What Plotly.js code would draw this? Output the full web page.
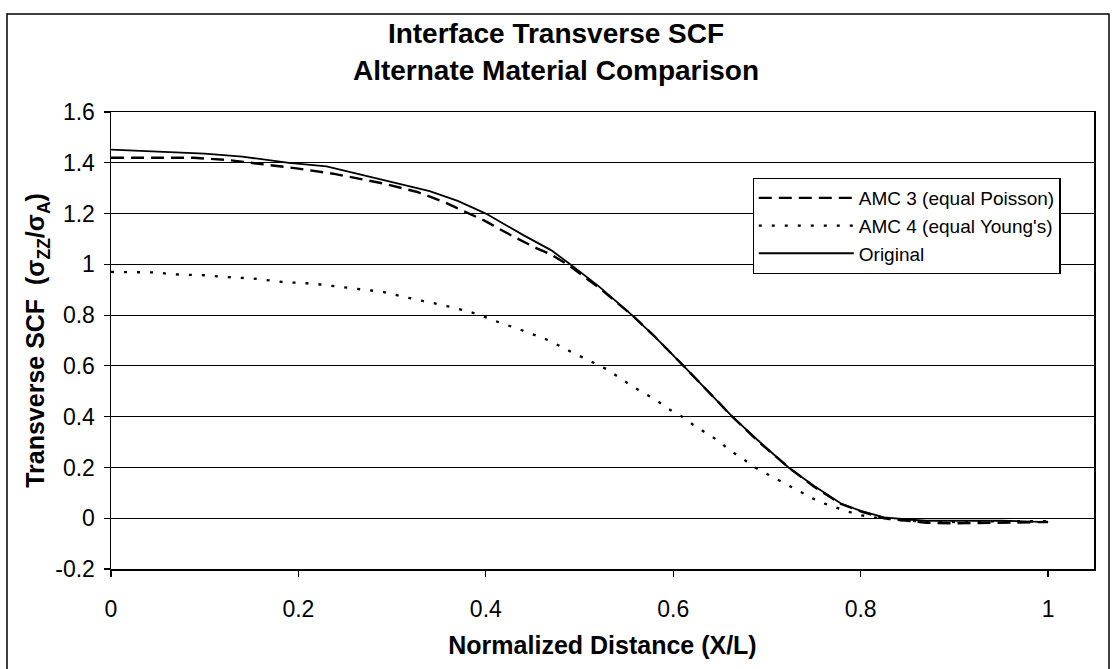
<!DOCTYPE html>
<html>
<head>
<meta charset="utf-8">
<script src="https://cdn.plot.ly/plotly-3.0.1.min.js"></script>
<style>html,body{margin:0;padding:0;background:#fff;}#chart{width:1112px;height:669px;}</style>
</head>
<body>
<div id="chart"></div>
<script>
// Series: Original (solid)
const origX = [0, 0.05, 0.10, 0.14, 0.16, 0.19, 0.23, 0.27, 0.31, 0.34, 0.37, 0.40, 0.44, 0.47, 0.49, 0.52, 0.556, 0.58, 0.611, 0.64, 0.663, 0.69, 0.723, 0.75, 0.779, 0.80, 0.825, 0.85, 0.87, 0.90, 0.95, 1.0];
const origY = [1.452, 1.443, 1.436, 1.424, 1.414, 1.400, 1.386, 1.350, 1.315, 1.288, 1.250, 1.200, 1.115, 1.055, 1.000, 0.915, 0.800, 0.716, 0.600, 0.490, 0.400, 0.308, 0.200, 0.128, 0.058, 0.029, 0.003, -0.005, -0.010, -0.010, -0.010, -0.015];
// Series: AMC 3 (equal Poisson) (dashed)
const amc3X = [0, 0.088, 0.127, 0.156, 0.20, 0.237, 0.291, 0.327, 0.355, 0.398, 0.43, 0.455, 0.469, 0.487, 0.52, 0.556, 0.58, 0.611, 0.64, 0.663, 0.69, 0.723, 0.75, 0.779, 0.80, 0.825, 0.85, 0.87, 0.90, 0.95, 1.0];
const amc3Y = [1.420, 1.420, 1.410, 1.397, 1.377, 1.357, 1.318, 1.285, 1.246, 1.173, 1.108, 1.062, 1.040, 1.000, 0.910, 0.800, 0.716, 0.600, 0.488, 0.400, 0.305, 0.200, 0.125, 0.056, 0.027, 0.000, -0.010, -0.018, -0.020, -0.018, -0.015];
// Series: AMC 4 (equal Young's) (dotted)
const amc4X = [0, 0.05, 0.063, 0.10, 0.124, 0.152, 0.184, 0.216, 0.245, 0.273, 0.291, 0.321, 0.351, 0.380, 0.394, 0.410, 0.439, 0.469, 0.483, 0.515, 0.530, 0.556, 0.583, 0.595, 0.610, 0.622, 0.649, 0.660, 0.674, 0.686, 0.699, 0.713, 0.729, 0.741, 0.756, 0.770, 0.784, 0.800, 0.82, 0.85, 0.90, 0.95, 1.0];
const amc4Y = [0.970, 0.968, 0.961, 0.957, 0.950, 0.944, 0.930, 0.924, 0.911, 0.898, 0.891, 0.865, 0.842, 0.816, 0.800, 0.777, 0.740, 0.698, 0.670, 0.612, 0.585, 0.520, 0.462, 0.430, 0.399, 0.366, 0.303, 0.268, 0.235, 0.202, 0.176, 0.147, 0.117, 0.092, 0.064, 0.047, 0.029, 0.012, 0.000, -0.010, -0.015, -0.012, -0.012];

const seriesNames = ["AMC 3 (equal Poisson)", "AMC 4 (equal Young's)", "Original"];
const xTickVals = [0, 0.2, 0.4, 0.6, 0.8, 1];
const xTickText = ["0", "0.2", "0.4", "0.6", "0.8", "1"];
const yTickVals = [-0.2, 0, 0.2, 0.4, 0.6, 0.8, 1, 1.2, 1.4, 1.6];
const yTickText = ["-0.2", "0", "0.2", "0.4", "0.6", "0.8", "1", "1.2", "1.4", "1.6"];

const FONT = '"Liberation Sans", Arial, sans-serif';

const traces = [
  {x: amc3X, y: amc3Y, name: seriesNames[0], type: 'scatter', mode: 'lines', legendgroup: 'a',
   line: {color: '#000', width: 2.4, dash: '13px,7px'}},
  {x: amc4X, y: amc4Y, name: seriesNames[1], type: 'scatter', mode: 'lines', legendgroup: 'b',
   line: {color: '#000', width: 2.3, dash: '3px,10px'}},
  {x: origX, y: origY, name: seriesNames[2], type: 'scatter', mode: 'lines', legendgroup: 'c',
   line: {color: '#000', width: 1.8}}
];

const layout = {
  width: 1112, height: 669,
  margin: {l: 111, r: 18, t: 112, b: 100},
  paper_bgcolor: '#fff', plot_bgcolor: '#fff',
  font: {family: FONT, color: '#000', size: 20},
  title: {
    text: '<b>Interface Transverse SCF<br>Alternate Material Comparison</b>',
    font: {family: FONT, size: 28, color: '#000'},
    x: 0.5, xref: 'container', xanchor: 'center',
    y: 0.935, yref: 'container', yanchor: 'top'
  },
  xaxis: {
    range: [0, 1.049], tickmode: 'array', tickvals: xTickVals, ticktext: xTickText,
    showgrid: false, zeroline: false, showline: true, linecolor: '#000', linewidth: 1.5, mirror: true,
    ticks: 'outside', ticklen: 6, tickcolor: '#000', tickwidth: 1.2, ticklabelstandoff: 13,
    tickfont: {family: FONT, size: 23, color: '#000'},
    title: {text: '<b>Normalized Distance (X/L)</b>', font: {family: FONT, size: 25, color: '#000'}, standoff: 15}
  },
  yaxis: {
    range: [-0.2, 1.6], tickmode: 'array', tickvals: yTickVals, ticktext: yTickText,
    showgrid: true, gridcolor: '#000', gridwidth: 1, zeroline: false,
    showline: true, linecolor: '#000', linewidth: 1.5, mirror: true,
    ticks: 'outside', ticklen: 6, tickcolor: '#000', tickwidth: 1.2, ticklabelstandoff: 4,
    tickfont: {family: FONT, size: 23, color: '#000'},
    title: {text: '<b>Transverse SCF  (σ<sub>ZZ</sub>/σ<sub>A</sub>)</b>', font: {family: FONT, size: 25, color: '#000'}, standoff: 3}
  },
  showlegend: true,
  legend: {
    x: 0.966, xanchor: 'right', y: 0.856, yanchor: 'top',
    bgcolor: '#fff', bordercolor: '#000', borderwidth: 1.2,
    font: {family: FONT, size: 19, color: '#000'},
    traceorder: 'grouped', tracegroupgap: 0, itemwidth: 95
  },
  shapes: [
    {type: 'rect', xref: 'paper', yref: 'paper',
     x0: (7 - 111) / 983, x1: (1109 - 111) / 983, y0: (569 - 672) / 457, y1: (569 - 14) / 457,
     line: {color: '#000', width: 1.5}, fillcolor: 'rgba(0,0,0,0)', layer: 'below'}
  ]
};

Plotly.newPlot('chart', traces, layout, {displayModeBar: false, staticPlot: true});
</script>
</body>
</html>
